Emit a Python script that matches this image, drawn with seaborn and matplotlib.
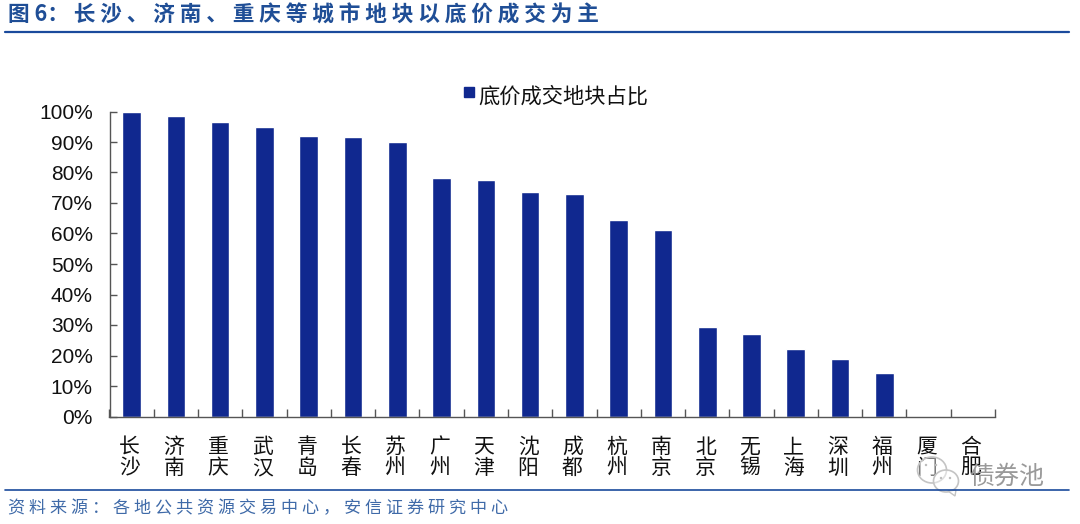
import matplotlib
matplotlib.use('Agg')
import matplotlib.pyplot as plt
from matplotlib.lines import Line2D
from matplotlib.patches import Ellipse, Polygon
from matplotlib.ticker import FixedLocator, PercentFormatter
from matplotlib.transforms import ScaledTranslation
import pandas as pd
import seaborn as sns

cities = ['长沙', '济南', '重庆', '武汉', '青岛', '长春', '苏州', '广州', '天津', '沈阳',
          '成都', '杭州', '南京', '北京', '无锡', '上海', '深圳', '福州', '厦门', '合肥']
shares = [100, 98.6, 96.5, 95, 92, 91.8, 90, 78.3, 77.5, 73.7,
          73, 64.3, 61, 29.3, 27.2, 22, 19, 14.3, 0, 0]
series_name = '底价成交地块占比'
title = '图 6\uff1a 长 沙 、 济 南 、 重 庆 等 城 市 地 块 以 底 价 成 交 为 主'
source = '资 料 来 源 \uff1a 各 地 公 共 资 源 交 易 中 心 \uff0c 安 信 证 券 研 究 中 心'
watermark = '债券池'

BAR = '#10288f'
BLUE = '#1f4e96'
W, H = 1080, 524

sns.set_theme(style='white')
plt.rcParams['font.family'] = ['Liberation Sans', 'Noto Sans CJK SC', 'DejaVu Sans']

df = pd.DataFrame({'city': cities, 'share': shares, 'name': series_name})

fig = plt.figure(figsize=(W / 100, H / 100), dpi=100)
ax = fig.add_axes([109.5 / W, 1 - 416.5 / H, (995 - 109.5) / W, (416.5 - 111.5) / H])

sns.barplot(data=df, x='city', y='share', hue='name', palette=[BAR], width=0.42,
            saturation=1, ax=ax, legend=False)

ax.set_xlim(-0.5, 19.5)
ax.set_ylim(0, 100)
ax.set_xlabel('')
ax.set_ylabel('')
ax.yaxis.set_major_locator(FixedLocator(range(0, 101, 10)))
ax.yaxis.set_major_formatter(PercentFormatter(decimals=0))
ax.tick_params(axis='y', labelsize=15, length=5, width=1, color='#555555', left=True,
               labelcolor='#111111', pad=12, direction='in')
ax.set_xticks(range(len(cities)))
ax.set_xticklabels(['\n'.join(c) for c in cities], fontsize=15, linespacing=0.95,
                   color='#111111', family=['Noto Sans CJK SC', 'DejaVu Sans'])
ax.set_xticks([i - 0.5 for i in range(len(cities) + 1)], minor=True)
ax.tick_params(axis='x', which='major', length=0, pad=14, bottom=False)
ax.tick_params(axis='x', which='minor', length=6, width=1, color='#555555', direction='in', bottom=True)
for lab in ax.get_xticklabels():
    lab.set_transform(lab.get_transform() + ScaledTranslation(-2 / 100, 0, fig.dpi_scale_trans))
for s in ['top', 'right']:
    ax.spines[s].set_visible(False)
for s in ['left', 'bottom']:
    ax.spines[s].set_color('#555555')
    ax.spines[s].set_linewidth(1)

cjk = ['Noto Sans CJK SC', 'DejaVu Sans']


def px(x, y):
    return x / W, 1 - y / H


# legend
fig.patches.append(plt.Rectangle(px(464, 97), 10 / W, 10 / H, transform=fig.transFigure, color=BAR))
fig.text(*px(478, 97), series_name, fontsize=15.3, family=cjk, color='#111111', va='center', ha='left')

# title block and rules
fig.text(*px(8, 15), title, fontsize=15.6, fontweight='bold', family=cjk, color=BLUE, va='center', ha='left')
fig.add_artist(Line2D([5 / W, 1069 / W], [1 - 32 / H] * 2, color='#1a4a9c', lw=1.6))
fig.add_artist(Line2D([5 / W, 1069 / W], [1 - 490 / H] * 2, color='#1a4a9c', lw=1.2))
fig.text(*px(8, 508), source, fontsize=12.3, family=cjk, color='#3f6aa8', va='center', ha='left')

# watermark
for cx, cy, w, h in [(932, 470, 29, 26), (946, 481, 25, 22)]:
    fig.patches.append(Ellipse(px(cx, cy), w / W, h / H, transform=fig.transFigure,
                               fc=(1, 1, 1, 0.45), ec='#c4c4c4', lw=1.2))
fig.patches.append(Polygon([px(948, 491), px(956, 490), px(955, 496)], closed=True,
                           transform=fig.transFigure, fc='white', ec='#c4c4c4', lw=1))
for cx, cy in [(926, 465), (936, 465), (941, 478), (950, 478)]:
    fig.patches.append(Ellipse(px(cx, cy), 2.4 / W, 2.4 / H, transform=fig.transFigure, fc='#bbbbbb', ec='none'))
fig.text(*px(1007, 477), watermark, fontsize=18, family=cjk, color='#9a9a9a',
         va='center', ha='center', fontweight='light')

fig.savefig('out.png', dpi=100, facecolor='white')
